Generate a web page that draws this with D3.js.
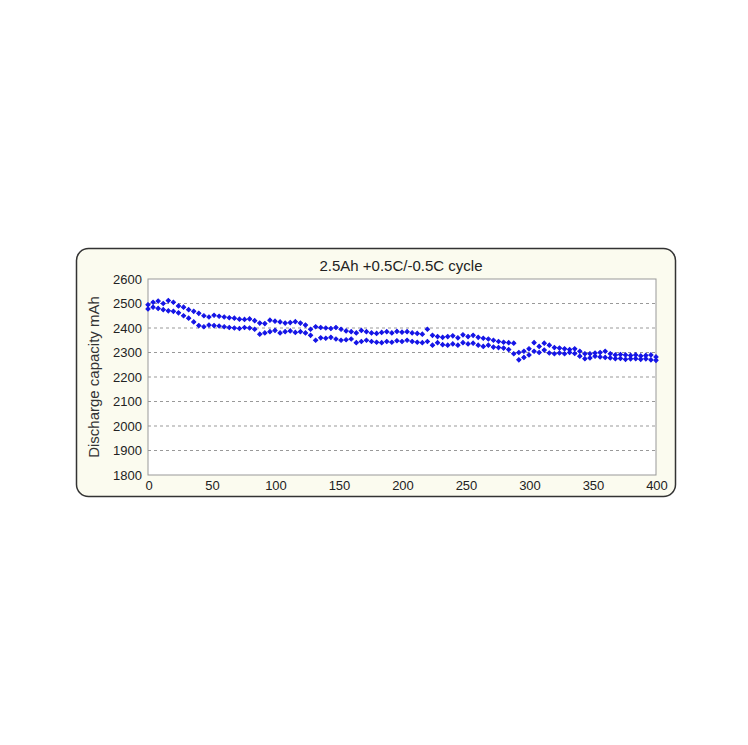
<!DOCTYPE html><html><head><meta charset="utf-8">
<script src="https://cdn.jsdelivr.net/npm/d3@7"></script>
<style>body{margin:0;background:#fff}</style></head><body><svg id="c" width="748" height="745"></svg>
<script>
const title = "2.5Ah +0.5C/-0.5C cycle";
const yLabel = "Discharge capacity mAh";
const xTicks = [0,50,100,150,200,250,300,350,400];
const yTicks = [1800,1900,2000,2100,2200,2300,2400,2500,2600];
const cycleStep = 4;
const upper = [2495,2505,2510,2500,2512,2505,
2490,2485,2475,2468,2460, 2450,2445,2452,2448,2445, 2442,2440,2436,2435,2437,
2430,2420,2418,2432,2428, 2425,2420,2422,2426,2420, 2412,2395,2405,2402,2400,
2398,2402,2395,2388,2385, 2380,2390,2385,2380,2378, 2382,2385,2380,2386,2383,
2385,2380,2378,2375,2395, 2370,2365,2362,2365,2368, 2360,2372,2365,2370,2362,
2358,2355,2350,2345,2342, 2340,2338,2300,2305,2315, 2340,2325,2338,2330,2320,
2318,2315,2312,2315,2305, 2295,2295,2298,2300,2305, 2295,2290,2292,2290,2288,
2290,2286,2288,2290,2282];
const lower = [2478,2485,2480,2475,2470,2468,
2462,2450,2440,2425,2410, 2405,2412,2410,2408,2405, 2402,2400,2398,2402,2400,
2395,2375,2380,2385,2390, 2380,2385,2388,2382,2385, 2380,2370,2350,2360,2358,
2362,2355,2350,2352,2355, 2340,2345,2350,2345,2342, 2340,2345,2342,2348,2345,
2350,2345,2342,2340,2345, 2330,2340,2332,2330,2335, 2330,2340,2335,2338,2330,
2325,2330,2322,2320,2318, 2312,2295,2270,2280,2290, 2305,2300,2310,2298,2295,
2298,2295,2300,2296,2285, 2275,2278,2285,2282,2280, 2278,2275,2276,2272,2274,
2275,2272,2274,2270,2268];

const svg = d3.select("#c");
svg.append("rect").attr("x",76.5).attr("y",248.5).attr("width",599).attr("height",248)
  .attr("rx",12).attr("fill","#fbfbef").attr("stroke","#333").attr("stroke-width",1.5);
const x = d3.scaleLinear().domain([0,400]).range([148,656]);
const y = d3.scaleLinear().domain([1800,2600]).range([475,279]);
svg.append("rect").attr("x",148).attr("y",279).attr("width",508).attr("height",196)
  .attr("fill","#fff").attr("stroke","#999");
svg.append("g").selectAll("line").data(yTicks.filter(v=>v>1800&&v<2600)).join("line")
  .attr("x1",148).attr("x2",656).attr("y1",d=>y(d)).attr("y2",d=>y(d))
  .attr("stroke","#999").attr("stroke-dasharray","3,3");
const font="Liberation Sans, Arial, sans-serif";
svg.append("g").selectAll("text").data(yTicks).join("text")
  .attr("x",142).attr("y",d=>y(d)+4.5).attr("text-anchor","end").attr("font-family",font)
  .attr("font-size",13).attr("fill","#222").text(d=>d);
svg.append("g").selectAll("text").data(xTicks).join("text")
  .attr("x",d=>x(d)+1).attr("y",490).attr("text-anchor","middle").attr("font-family",font)
  .attr("font-size",13).attr("fill","#222").text(d=>d);
svg.append("text").attr("transform","translate(99,377) rotate(-90)").attr("text-anchor","middle")
  .attr("font-family",font).attr("font-size",15).attr("fill","#333").text(yLabel);
svg.append("text").attr("x",401).attr("y",271).attr("text-anchor","middle")
  .attr("font-family",font).attr("font-size",15).attr("fill","#222").text(title);
const sym = d3.symbol().type(d3.symbolSquare).size(9);
[upper,lower].forEach(s=>{
  svg.append("g").selectAll("path").data(s).join("path")
    .attr("transform",(d,i)=>`translate(${x(i*cycleStep)},${y(d)}) rotate(45)`)
    .attr("d",sym).attr("fill","#1414e6").attr("stroke","#1414e6").attr("stroke-width",1);
});
</script></body></html>
